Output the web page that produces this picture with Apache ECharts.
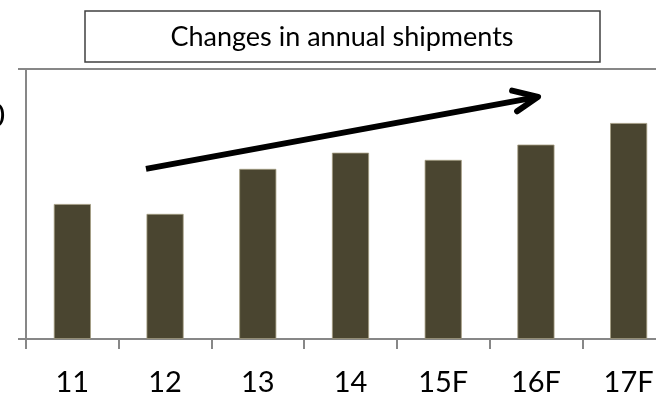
<!DOCTYPE html>
<html>
<head>
<meta charset="utf-8">
<script src="https://cdn.jsdelivr.net/npm/echarts@6/dist/echarts.min.js"></script>
<style>
  html, body { margin: 0; padding: 0; background: #fff; overflow: hidden; }
  #chart { width: 680px; height: 397px; }
</style>
</head>
<body>
<div id="chart"></div>
<script>
// Annual shipments by year (F = forecast)
const years = ['11', '12', '13', '14', '15F', '16F', '17F'];
const shipments = [150, 139, 189, 207, 199, 216, 240];
const axisMax = 300;

// Trend arrow, in (category position, value) units: shaft start, tip, and the two head arms
const arrowShaft = [[1.294, 189], [5.523, 269]];
const arrowHead = [[5.243, 276], [5.523, 269], [5.297, 253]];

const axisGray = '#878787';
const barColor = '#4a4530';
const font = 'Lato, "Open Sans", sans-serif';

const chart = echarts.init(document.getElementById('chart'), null, { renderer: 'canvas' });

chart.setOption({
  animation: false,
  backgroundColor: '#ffffff',
  grid: { left: 26, top: 69, right: 5, height: 274, containLabel: false },
  graphic: [
    {
      type: 'rect',
      shape: { x: 85, y: 11, width: 515, height: 51 },
      style: { fill: '#ffffff', stroke: '#404040', lineWidth: 1.5 },
      z: 10
    },
    {
      type: 'text',
      x: 342, y: 37,
      style: {
        text: 'Changes in annual shipments',
        font: '27px ' + font,
        fill: '#000000',
        align: 'center',
        verticalAlign: 'middle'
      },
      z: 11
    },
    {
      type: 'text',
      x: 5, y: 117,
      style: {
        text: '0',
        font: '32px ' + font,
        fill: '#000000',
        align: 'right',
        verticalAlign: 'middle'
      }
    }
  ],
  xAxis: [
    {
      type: 'category',
      data: years,
      axisLine: { lineStyle: { color: axisGray, width: 2 } },
      axisTick: { show: true, length: 10, inside: false, alignWithLabel: false, lineStyle: { color: axisGray, width: 2 } },
      axisLabel: { color: '#000', fontSize: 29, fontFamily: font, margin: 29, interval: 0 },
      splitLine: { show: false }
    },
    {
      type: 'value',
      min: 0, max: 7,
      show: false
    }
  ],
  yAxis: {
    type: 'value',
    min: 0, max: axisMax, interval: axisMax,
    axisLine: { show: true, lineStyle: { color: axisGray, width: 2 } },
    axisTick: { show: true, length: 8, lineStyle: { color: axisGray, width: 2 } },
    axisLabel: { show: false },
    splitLine: { show: true, lineStyle: { color: axisGray, width: 2 } }
  },
  series: [
    {
      type: 'bar',
      data: shipments,
      barWidth: '40%',
      itemStyle: { color: barColor, borderColor: '#a49d82', borderWidth: 0.8 }
    },
    {
      type: 'custom',
      xAxisIndex: 1,
      data: [0],
      silent: true,
      z: 5,
      renderItem: function (params, api) {
        const shaft = arrowShaft.map(p => api.coord(p));
        const head = arrowHead.map(p => api.coord(p));
        return {
          type: 'group',
          children: [
            { type: 'polyline', shape: { points: shaft },
              style: { stroke: '#000', lineWidth: 6, fill: null, lineCap: 'butt' } },
            { type: 'polyline', shape: { points: head },
              style: { stroke: '#000', lineWidth: 6, fill: null, lineCap: 'round', lineJoin: 'round' } }
          ]
        };
      }
    }
  ]
});
</script>
</body>
</html>
